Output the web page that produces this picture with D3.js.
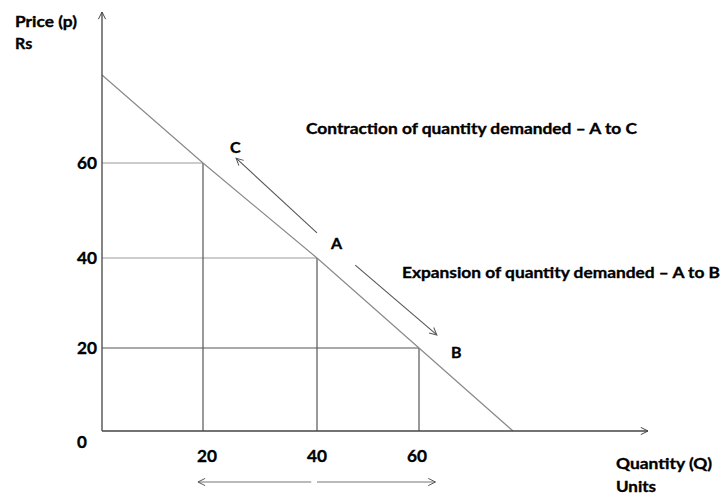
<!DOCTYPE html>
<html>
<head>
<meta charset="utf-8">
<script src="https://cdn.jsdelivr.net/npm/d3@7"></script>
<style>
  html, body { margin: 0; padding: 0; background: #fff; }
  svg { display: block; }
  text { font-family: Lato, "Open Sans", sans-serif; font-weight: 700; fill: #000; stroke: #000; stroke-width: 0.35px; }
</style>
</head>
<body>
<svg id="chart" width="723" height="495"></svg>
<script>
// ---- data ----
const quantityTicks = [20, 40, 60];
const priceTicks = [20, 40, 60];
const demandQ = [0, 20, 40, 60, 80];
const demandP = [80, 60, 40, 20, 0];
const pointLabels = ["C", "A", "B"];
const pointQ = [20, 40, 60];
const pointP = [60, 40, 20];
const contractionFrom = [40, 45.3];
const contractionTo = [25.8, 61.1];
const expansionFrom = [47.5, 38.4];
const expansionTo = [63.8, 22.9];
const bottomArrowLeft = [39, 19];
const bottomArrowRight = [40, 63.5];
const yTitle = ["Price (p)", "Rs"];
const xTitle = ["Quantity (Q)", "Units"];
const contractionText = "Contraction of quantity demanded \u2013 A to C";
const expansionText = "Expansion of quantity demanded \u2013 A to B";

// ---- scales (hand-drawn diagram: piecewise linear) ----
const x = d3.scaleLinear().domain([0, 20, 40, 60, 80]).range([102, 203, 317, 419, 513]);
const y = d3.scaleLinear().domain([0, 20, 40, 60, 80]).range([431, 348, 258, 163, 75]);

const svg = d3.select("#chart");
const defs = svg.append("defs");
function marker(id, color) {
  defs.append("marker").attr("id", id)
    .attr("viewBox", "0 0 10 10").attr("refX", 9).attr("refY", 5)
    .attr("markerWidth", 9).attr("markerHeight", 9).attr("markerUnits", "userSpaceOnUse")
    .attr("orient", "auto")
    .append("path").attr("d", "M1,1 L9,5 L1,9").attr("fill", "none")
    .attr("stroke", color).attr("stroke-width", 1.1);
}
marker("arr", "#555");
marker("arrAx", "#444");

// grid lines from axes to demand curve
const hColors = {60: "#9a9a9a", 40: "#9a9a9a", 20: "#555"};
priceTicks.forEach((p, i) => {
  svg.append("line").attr("x1", x(0)).attr("x2", x(quantityTicks[quantityTicks.length - 1 - i]))
    .attr("y1", y(p)).attr("y2", y(p)).attr("stroke", hColors[p]).attr("stroke-width", 1.2);
});
quantityTicks.forEach((q, i) => {
  svg.append("line").attr("x1", x(q)).attr("x2", x(q))
    .attr("y1", y(priceTicks[priceTicks.length - 1 - i])).attr("y2", y(0))
    .attr("stroke", "#555").attr("stroke-width", 1.2);
});

// demand line
const demand = demandQ.map((q, i) => [q, demandP[i]]);
svg.append("path").datum(demand)
  .attr("d", d3.line().x(d => x(d[0])).y(d => y(d[1])))
  .attr("fill", "none").attr("stroke", "#8a8a8a").attr("stroke-width", 1.2);

// axes
svg.append("line").attr("x1", x(0)).attr("y1", y(0)).attr("x2", x(0)).attr("y2", 12)
  .attr("stroke", "#444").attr("stroke-width", 1.3).attr("marker-end", "url(#arrAx)");
svg.append("line").attr("x1", x(0)).attr("y1", y(0)).attr("x2", 648).attr("y2", y(0))
  .attr("stroke", "#444").attr("stroke-width", 1.3).attr("marker-end", "url(#arrAx)");

// tick labels
svg.selectAll(".yl").data(priceTicks).enter().append("text")
  .attr("x", 77).attr("y", d => y(d) + 6)
  .attr("font-size", 17).attr("textLength", 20).attr("lengthAdjust", "spacingAndGlyphs").text(d => d);
svg.append("text").attr("x", 82).attr("y", 448).attr("text-anchor", "middle")
  .attr("font-size", 17).text("0");
const xLabelShift = {20: 4, 40: 0, 60: -2};
svg.selectAll(".xl").data(quantityTicks).enter().append("text")
  .attr("x", d => x(d) + xLabelShift[d] - 10).attr("y", 462)
  .attr("font-size", 17).attr("textLength", 20).attr("lengthAdjust", "spacingAndGlyphs").text(d => d);

// axis titles
svg.append("text").attr("x", 15).attr("y", 27).attr("font-size", 16)
  .attr("textLength", 62).attr("lengthAdjust", "spacingAndGlyphs").text(yTitle[0]);
svg.append("text").attr("x", 15).attr("y", 49).attr("font-size", 16).text(yTitle[1]);
svg.append("text").attr("x", 616).attr("y", 469).attr("font-size", 16)
  .attr("textLength", 96).attr("lengthAdjust", "spacingAndGlyphs").text(xTitle[0]);
svg.append("text").attr("x", 616).attr("y", 492).attr("font-size", 16)
  .attr("textLength", 40).attr("lengthAdjust", "spacingAndGlyphs").text(xTitle[1]);

// point labels
const labelOffsets = {C: [230, 153], A: [331, 249], B: [451, 358]};
pointLabels.forEach((l, i) => {
  const o = labelOffsets[l];
  svg.append("text").attr("x", o[0]).attr("y", o[1]).attr("font-size", 16).text(l);
});

// movement arrows
function arrow(from, to) {
  svg.append("line").attr("x1", x(from[0])).attr("y1", y(from[1]))
    .attr("x2", x(to[0])).attr("y2", y(to[1]))
    .attr("stroke", "#555").attr("stroke-width", 1.1).attr("marker-end", "url(#arr)");
}
arrow(contractionFrom, contractionTo);
arrow(expansionFrom, expansionTo);

// bottom arrows
[bottomArrowLeft, bottomArrowRight].forEach(a => {
  svg.append("line").attr("x1", x(a[0])).attr("x2", x(a[1])).attr("y1", 482).attr("y2", 482)
    .attr("stroke", "#777").attr("stroke-width", 1.2).attr("marker-end", "url(#arr)");
});

// annotations
svg.append("text").attr("x", 306).attr("y", 134).attr("font-size", 16)
  .attr("textLength", 331).attr("lengthAdjust", "spacingAndGlyphs").text(contractionText);
svg.append("text").attr("x", 402).attr("y", 278).attr("font-size", 16)
  .attr("textLength", 318).attr("lengthAdjust", "spacingAndGlyphs").text(expansionText);
</script>
</body>
</html>
